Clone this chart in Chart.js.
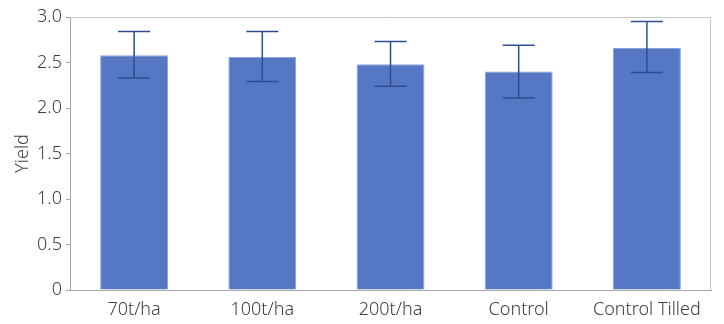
<!DOCTYPE html>
<html>
<head>
<meta charset="utf-8">
<script src="https://cdn.jsdelivr.net/npm/chart.js@4"></script>
<style>
  html, body { margin: 0; padding: 0; background: #fff; }
  #wrap { width: 724px; height: 324px; }
</style>
</head>
<body>
<div id="wrap"><canvas id="c" width="724" height="324"></canvas></div>
<script>
// ---- data ----
const categories = ['70t/ha', '100t/ha', '200t/ha', 'Control', 'Control Tilled'];
const yieldMean  = [2.58, 2.56, 2.48, 2.40, 2.66];
const errHigh    = [2.84, 2.84, 2.73, 2.69, 2.95];
const errLow     = [2.33, 2.29, 2.24, 2.11, 2.39];

const BAR_COLOR  = '#5677c4';
const BAR_EDGE   = '#8aa3dc';
const ERR_COLOR  = '#2f4d95';
const TEXT_COLOR = '#404040';
const FONT       = { family: 'Noto Sans', size: 18, weight: '300' };

// error bars drawn through the y scale
const errorBars = {
  id: 'errorBars',
  afterDatasetsDraw(chart) {
    const { ctx, scales: { y } } = chart;
    const meta = chart.getDatasetMeta(0);
    ctx.save();
    ctx.strokeStyle = ERR_COLOR;
    ctx.lineWidth = 1.5;
    meta.data.forEach((bar, i) => {
      const x = bar.x;
      const yt = y.getPixelForValue(errHigh[i]);
      const yb = y.getPixelForValue(errLow[i]);
      const cap = 16;
      ctx.beginPath();
      ctx.moveTo(x, yt); ctx.lineTo(x, yb);
      ctx.moveTo(x - cap, yt); ctx.lineTo(x + cap, yt);
      ctx.moveTo(x - cap, yb); ctx.lineTo(x + cap, yb);
      ctx.stroke();
    });
    ctx.restore();
  }
};

// light frame on top and right of the plot area
const frame = {
  id: 'frame',
  beforeDatasetsDraw(chart) {
    const { ctx, chartArea: a } = chart;
    ctx.save();
    ctx.strokeStyle = '#c8c8c8';
    ctx.lineWidth = 1;
    ctx.beginPath();
    ctx.moveTo(a.left, a.top + 0.5);
    ctx.lineTo(a.right - 0.5, a.top + 0.5);
    ctx.lineTo(a.right - 0.5, a.bottom);
    ctx.stroke();
    ctx.restore();
  }
};

new Chart(document.getElementById('c').getContext('2d'), {
  type: 'bar',
  data: {
    labels: categories,
    datasets: [{
      data: yieldMean,
      backgroundColor: BAR_COLOR,
      borderColor: BAR_EDGE,
      borderWidth: 1,
      categoryPercentage: 1,
      barPercentage: 0.53
    }]
  },
  options: {
    responsive: false,
    animation: false,
    devicePixelRatio: 1,
    layout: { padding: { left: 0, top: 17, right: 13, bottom: 0 } },
    plugins: { legend: { display: false }, tooltip: { enabled: false } },
    scales: {
      x: {
        afterFit: s => { s.height = 34; },
        grid: { display: false, drawTicks: false },
        border: { color: '#a6a6a6', width: 1 },
        ticks: { color: TEXT_COLOR, font: FONT, padding: 9, maxRotation: 0, autoSkip: false }
      },
      y: {
        min: 0,
        max: 3,
        afterFit: s => { s.width = 70; },
        ticks: {
          stepSize: 0.25,
          color: TEXT_COLOR,
          font: FONT,
          padding: 4,
          callback: v => (Math.abs(v * 2 - Math.round(v * 2)) > 1e-6) ? '' : (v === 0 ? '0' : v.toFixed(1))
        },
        grid: { drawOnChartArea: false, drawTicks: true, tickLength: 4, color: '#a6a6a6' },
        border: { color: '#a6a6a6', width: 1 },
        title: {
          display: true,
          text: 'Yield',
          color: TEXT_COLOR,
          font: FONT,
          padding: { top: 12, bottom: 4 }
        }
      }
    }
  },
  plugins: [frame, errorBars]
});
</script>
</body>
</html>
